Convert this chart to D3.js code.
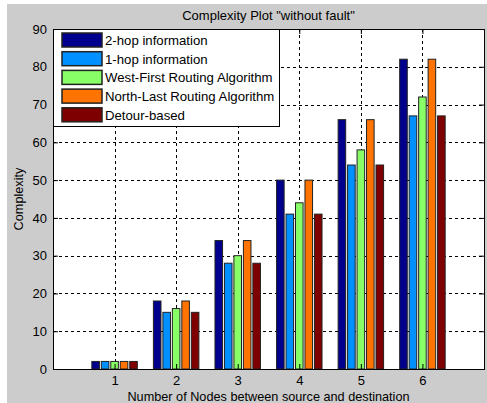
<!DOCTYPE html>
<html>
<head>
<meta charset="utf-8">
<script src="https://cdn.jsdelivr.net/npm/d3@7"></script>
<style>
  body { margin: 0; background: #fff; }
  svg { display: block; font-family: "Liberation Sans", Arial, sans-serif; }
</style>
</head>
<body>
<div id="chart"></div>
<script>
const categories = [1, 2, 3, 4, 5, 6];
const seriesNames = [
  '2-hop information',
  '1-hop information',
  'West-First Routing Algorithm',
  'North-Last Routing Algorithm',
  'Detour-based'
];
const twoHop = [2, 18, 34, 50, 66, 82];
const oneHop = [2, 15, 28, 41, 54, 67];
const westFirst = [2, 16, 30, 44, 58, 72];
const northLast = [2, 18, 34, 50, 66, 82];
const detour = [2, 15, 28, 41, 54, 67];
const yTicks = [0, 10, 20, 30, 40, 50, 60, 70, 80, 90];
const COLORS = ['#00008c', '#0090ff', '#88ff66', '#ff7300', '#7f0000'];

const series = [twoHop, oneHop, westFirst, northLast, detour];

const width = 487;
const height = 403;
const plot = {left: 53, right: 484, top: 29, bottom: 369};

const svg = d3.select('#chart')
  .append('svg')
    .attr('width', width)
    .attr('height', height);

// figure background (grey like matlab)
svg.append('rect')
  .attr('x', 7).attr('y', 4)
  .attr('width', width - 7).attr('height', height - 4)
  .attr('fill', '#cccccc');

const x = d3.scaleLinear().domain([0, 7]).range([plot.left, plot.right]);
const y = d3.scaleLinear().domain([0, 90]).range([plot.bottom, plot.top]);

svg.append('rect')
  .attr('x', plot.left).attr('y', plot.top)
  .attr('width', plot.right - plot.left).attr('height', plot.bottom - plot.top)
  .attr('fill', '#fff');

// grid
const grid = svg.append('g')
  .attr('stroke', '#000')
  .attr('stroke-width', 1)
  .attr('stroke-dasharray', '3,3');
grid.selectAll('.gx')
  .data(categories)
  .enter().append('line')
    .attr('x1', d => Math.round(x(d)) + 0.5)
    .attr('x2', d => Math.round(x(d)) + 0.5)
    .attr('y1', plot.top)
    .attr('y2', plot.bottom);
grid.selectAll('.gy')
  .data(yTicks.slice(1, -1))
  .enter().append('line')
    .attr('x1', plot.left)
    .attr('x2', plot.right)
    .attr('y1', d => Math.round(y(d)) + 0.5)
    .attr('y2', d => Math.round(y(d)) + 0.5);

// grouped bars, matlab style widths
const n = series.length;
const groupWidth = Math.min(0.8, n / (n + 1.5));
const slot = groupWidth / n;
const barW = slot * 0.8;

series.forEach((vals, si) => {
  svg.append('g')
    .selectAll('rect')
    .data(vals)
    .enter().append('rect')
      .attr('x', (d, i) => x(categories[i] - groupWidth / 2 + slot * si + (slot - barW) / 2))
      .attr('y', d => y(d))
      .attr('width', x(barW) - x(0))
      .attr('height', d => y(0) - y(d))
      .attr('fill', COLORS[si])
      .attr('stroke', '#222')
      .attr('stroke-width', 1);
});

// axes
const xAxis = d3.axisBottom(x).tickValues(categories).tickSize(-5).tickPadding(7).tickFormat(d3.format('d'));
const xAxisTop = d3.axisTop(x).tickValues(categories).tickSize(-5).tickFormat('');
const yAxis = d3.axisLeft(y).tickValues(yTicks).tickSize(-5).tickPadding(6);
const yAxisRight = d3.axisRight(y).tickValues(yTicks).tickSize(-5).tickFormat('');

[
  svg.append('g').attr('transform', `translate(0,${plot.bottom})`).call(xAxis),
  svg.append('g').attr('transform', `translate(0,${plot.top})`).call(xAxisTop),
  svg.append('g').attr('transform', `translate(${plot.left},0)`).call(yAxis),
  svg.append('g').attr('transform', `translate(${plot.right},0)`).call(yAxisRight)
].forEach(g => {
  g.select('.domain').attr('stroke', '#000');
  g.selectAll('.tick line').attr('stroke', '#000');
  g.selectAll('.tick text')
    .attr('font-size', '13px')
    .attr('fill', '#000')
    .attr('font-family', '"Liberation Sans", Arial, sans-serif');
});

// legend
const legend = svg.append('g');
legend.append('rect')
  .attr('x', 53.5).attr('y', 29.5)
  .attr('width', 226).attr('height', 97)
  .attr('fill', '#fff')
  .attr('stroke', '#000');
seriesNames.forEach((name, i) => {
  const cy = 40 + i * 18.7;
  legend.append('rect')
    .attr('x', 62).attr('y', cy - 7)
    .attr('width', 40).attr('height', 14)
    .attr('fill', COLORS[i])
    .attr('stroke', '#222')
    .attr('stroke-width', 1.5);
  legend.append('text')
    .attr('x', 105).attr('y', cy + 5)
    .attr('font-size', '13.2px')
    .attr('fill', '#000')
    .text(name);
});

// labels
svg.append('text')
  .attr('x', (plot.left + plot.right) / 2).attr('y', 20)
  .attr('text-anchor', 'middle')
  .attr('font-size', '13px')
  .text('Complexity Plot "without fault"');

svg.append('text')
  .attr('x', (plot.left + plot.right) / 2).attr('y', 401)
  .attr('text-anchor', 'middle')
  .attr('font-size', '12.7px')
  .text('Number of Nodes between source and destination');

svg.append('text')
  .attr('transform', `translate(23,${(plot.top + plot.bottom) / 2}) rotate(-90)`)
  .attr('text-anchor', 'middle')
  .attr('font-size', '12.7px')
  .text('Complexity');
</script>
</body>
</html>
